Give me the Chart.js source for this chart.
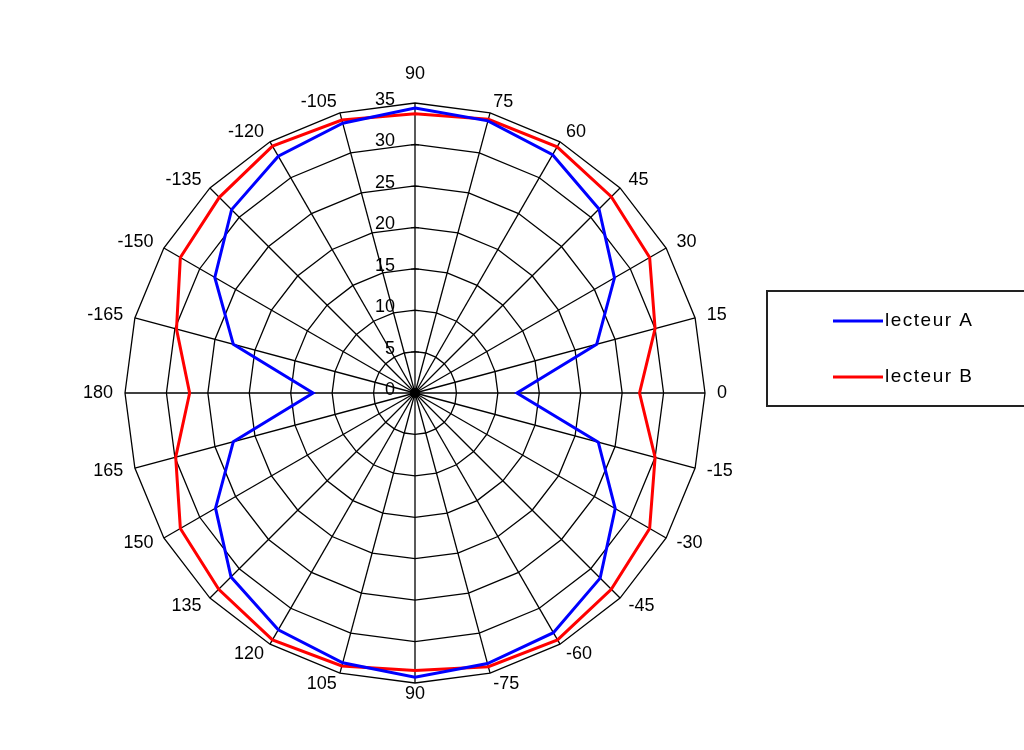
<!DOCTYPE html>
<html>
<head>
<meta charset="utf-8">
<script src="https://cdn.jsdelivr.net/npm/chart.js@4/dist/chart.umd.min.js"></script>
<style>
  body { margin: 0; background: #fff; }
  canvas { display: block; }
</style>
</head>
<body>
<canvas id="myChart" width="1024" height="750"></canvas>
<script>
// angles read clockwise from the top spoke (Excel radar chart)
var angleLabels = ["90", "75", "60", "45", "30", "15", "0", "-15", "-30", "-45", "-60", "-75",
                   "90", "105", "120", "135", "150", "165", "180", "-165", "-150", "-135", "-120", "-105"];
var lecteurA = [34.4, 34.0, 33.2, 31.4, 27.8, 22.7, 12.3, 22.9, 27.9, 31.6, 33.4, 33.8,
                34.3, 33.7, 33.0, 31.4, 27.8, 22.7, 12.3, 22.7, 27.9, 31.3, 33.0, 33.7];
var lecteurB = [33.7, 34.2, 34.3, 33.5, 32.7, 30.0, 27.1, 30.0, 32.7, 33.5, 34.4, 34.2,
                33.5, 34.1, 34.4, 33.5, 32.7, 29.9, 27.2, 29.8, 32.7, 33.4, 34.4, 34.1];
var seriesNames = ["lecteur A", "lecteur B"];
var seriesColors = ["#0000ff", "#ff0000"];
var radialTicks = [0, 5, 10, 15, 20, 25, 30, 35];

var FONT = '"Liberation Sans", Arial, sans-serif';

// draws the angle labels, the value labels and the boxed legend the way Excel does
var excelBits = {
  id: "excelBits",
  afterDraw: function(chart) {
    var ctx = chart.ctx;
    var sc = chart.scales.r;
    var R = sc.drawingArea;
    ctx.save();
    ctx.fillStyle = "#000";
    ctx.font = "18px " + FONT;
    ctx.textBaseline = "middle";

    // angle labels round the outside
    for (var i = 0; i < angleLabels.length; i++) {
      var p = sc.getPointPosition(i, R);
      var sx = (p.x - sc.xCenter) / R;
      var sy = (p.y - sc.yCenter) / R;
      var x = p.x + 12 * sx;
      var y = p.y + 11 * sy;
      if (i == 0) y -= 18; // top label sits above the value labels
      if (Math.abs(sx) < 0.01) ctx.textAlign = "center";
      else if (sx > 0) ctx.textAlign = "left";
      else ctx.textAlign = "right";
      ctx.fillText(angleLabels[i], x, y);
    }

    // value labels + small tick marks along the top spoke
    ctx.textAlign = "right";
    ctx.strokeStyle = "#000";
    ctx.lineWidth = 1;
    for (var k = 0; k < radialTicks.length; k++) {
      var d = sc.getDistanceFromCenterForValue(radialTicks[k]);
      var ty = sc.yCenter - d;
      ctx.fillText(String(radialTicks[k]), sc.xCenter - 20, ty - 3);
      ctx.beginPath();
      ctx.moveTo(sc.xCenter - 4, ty + 0.5);
      ctx.lineTo(sc.xCenter + 4, ty + 0.5);
      ctx.stroke();
    }

    // centre blob where all the spokes meet
    ctx.beginPath();
    ctx.arc(sc.xCenter, sc.yCenter, 5, 0, Math.PI * 2);
    ctx.fill();

    // legend box
    ctx.strokeStyle = "#222";
    ctx.lineWidth = 2;
    ctx.strokeRect(767, 291, 270, 115);
    ctx.textAlign = "left";
    ctx.font = "19px " + FONT;
    if ("letterSpacing" in ctx) ctx.letterSpacing = "1.5px";
    var ds = chart.data.datasets;
    for (var j = 0; j < ds.length; j++) {
      var ly = 321 + j * 56;
      ctx.strokeStyle = ds[j].borderColor;
      ctx.lineWidth = 3;
      ctx.beginPath();
      ctx.moveTo(833, ly);
      ctx.lineTo(883, ly);
      ctx.stroke();
      ctx.fillStyle = "#000";
      ctx.fillText(ds[j].label, 885, ly);
    }
    ctx.restore();
  }
};

new Chart("myChart", {
  type: "radar",
  data: {
    labels: angleLabels,
    datasets: [
      { label: seriesNames[0], data: lecteurA, borderColor: seriesColors[0], borderWidth: 3, fill: false, pointRadius: 0, tension: 0 },
      { label: seriesNames[1], data: lecteurB, borderColor: seriesColors[1], borderWidth: 3, fill: false, pointRadius: 0, tension: 0 }
    ]
  },
  options: {
    responsive: false,
    devicePixelRatio: 1,
    animation: false,
    layout: { padding: { left: 125, right: 319, top: 103, bottom: 67 } },
    plugins: { legend: { display: false }, tooltip: { enabled: false } },
    scales: {
      r: {
        min: 0,
        max: 35,
        ticks: { stepSize: 5, display: false },
        pointLabels: { display: false },
        grid: { color: "#000", lineWidth: 1.3 },
        angleLines: { color: "#000", lineWidth: 1.3 }
      }
    }
  },
  plugins: [excelBits]
});
</script>
</body>
</html>
